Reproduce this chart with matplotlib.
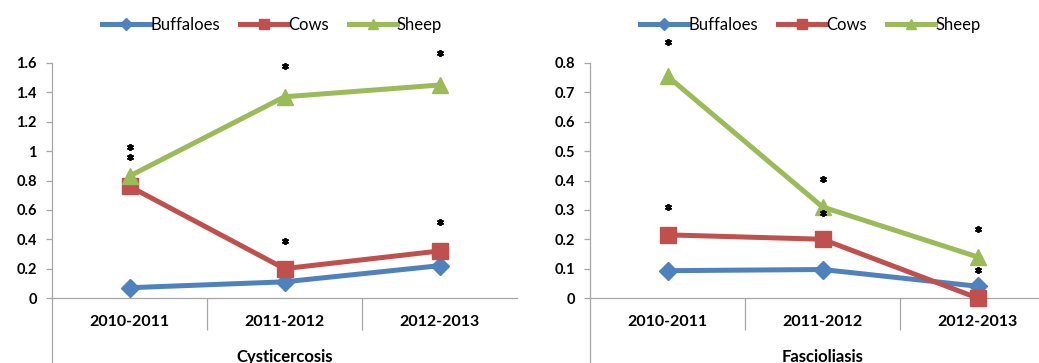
import matplotlib
matplotlib.use("Agg")
import matplotlib.pyplot as plt
from matplotlib.lines import Line2D

plt.rcParams["font.family"] = ["Lato", "DejaVu Sans"]

periods = ["2010-2011", "2011-2012", "2012-2013"]
species = ["Buffaloes", "Cows", "Sheep"]

# Cysticercosis
cyst_values = {
    "Buffaloes": [0.07, 0.11, 0.22],
    "Cows": [0.76, 0.20, 0.32],
    "Sheep": [0.83, 1.37, 1.45],
}
cyst_star_x = [0, 0, 1, 1, 2, 2]
cyst_star_y = [1.03, 0.96, 1.58, 0.39, 1.67, 0.52]

# Fascioliasis
fasc_values = {
    "Buffaloes": [0.093, 0.097, 0.04],
    "Cows": [0.215, 0.20, 0.0],
    "Sheep": [0.755, 0.31, 0.14],
}
fasc_star_x = [0, 0, 1, 1, 2, 2]
fasc_star_y = [0.87, 0.31, 0.405, 0.29, 0.235, 0.095]

colors = {"Buffaloes": "#4F81BD", "Cows": "#C0504D", "Sheep": "#9BBB59"}
markers = {"Buffaloes": "D", "Cows": "s", "Sheep": "^"}
msizes = {"Buffaloes": 9, "Cows": 11, "Sheep": 12}
grey = "#A6A6A6"

W, H = 1039, 363
fig = plt.figure(figsize=(W / 100, H / 100), dpi=100)


def panel(rect, values, star_x, star_y, ymax, step, title, legend_cx):
    ax = fig.add_axes(rect)
    x = range(len(periods))
    for s in species:
        ax.plot(x, values[s], color=colors[s], lw=3.6, marker=markers[s],
                ms=msizes[s], mfc=colors[s], mec=colors[s], clip_on=False,
                zorder=3, label=s)
    ax.plot(star_x, star_y, ls="none", marker=(6, 2, 0), ms=5, mew=1.3,
            color="black", clip_on=False, zorder=4)

    ax.set_xlim(-0.5, len(periods) - 0.5)
    ax.set_ylim(0, ymax)
    ticks = [round(i * step, 2) for i in range(int(round(ymax / step)) + 1)]
    ax.set_yticks(ticks)
    ax.set_yticklabels([f"{t:g}" for t in ticks], fontweight="bold", fontsize=10.5)

    ax.set_xticks([i + 0.5 for i in range(len(periods) - 1)])
    ax.set_xticklabels([])
    ax.tick_params(axis="x", length=23, color=grey, width=0.9)
    ax.set_xticks(list(x), minor=True)
    ax.set_xticklabels(periods, minor=True, fontweight="bold", fontsize=11.5)
    ax.tick_params(axis="x", which="minor", length=0, pad=12)
    ax.tick_params(axis="y", length=4, color=grey, width=0.9, pad=7)

    for side in ["top", "right"]:
        ax.spines[side].set_visible(False)
    for side in ["left", "bottom"]:
        ax.spines[side].set_color(grey)
        ax.spines[side].set_linewidth(0.9)

    # left edge of the category axis running down to the figure bottom
    ax.add_line(Line2D([0, 0], [0, -0.45], transform=ax.transAxes,
                       color=grey, lw=0.9, clip_on=False))
    ax.set_xlabel(title, fontweight="bold", fontsize=12, labelpad=10)

    handles, labels = ax.get_legend_handles_labels()
    fig.legend(handles, labels, loc="center", ncol=3,
               bbox_to_anchor=(legend_cx / W, 1 - 25 / H), frameon=False,
               fontsize=12, handlelength=2.9, handletextpad=0.0,
               columnspacing=1.2, markerscale=0.65)
    return ax


bottom = 1 - 298 / H
height = (298 - 63) / H
panel([52 / W, bottom, 465 / W, height], cyst_values, cyst_star_x,
      cyst_star_y, 1.6, 0.2, "Cysticercosis", 272)
panel([590 / W, bottom, 465 / W, height], fasc_values, fasc_star_x,
      fasc_star_y, 0.8, 0.1, "Fascioliasis", 810)

fig.savefig("out.png", dpi=100)
